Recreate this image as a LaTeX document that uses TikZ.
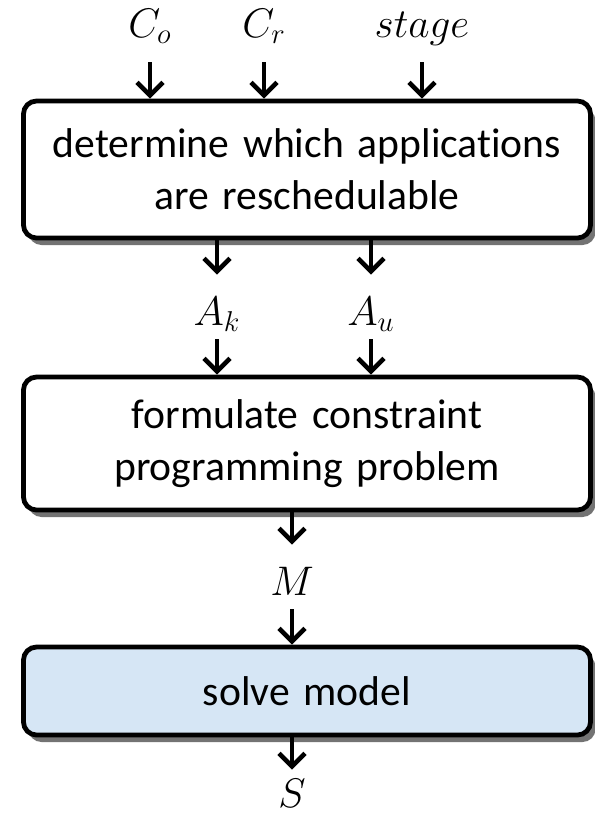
\documentclass[tikz,border=0pt]{standalone}
\usepackage{fontspec}
\setmainfont{Carlito}[Ligatures=NoCommon]
\usetikzlibrary{arrows.meta,shadows}
\definecolor{solvefill}{RGB}{214,230,245}
\tikzset{
  stepbox/.style={draw, line width=2.4bp, rounded corners=6.5bp, fill=white,
    minimum width=283.5bp, text width=265bp, align=center,
    font=\fontsize{20.9}{26}\selectfont,
    drop shadow={shadow xshift=2.5bp, shadow yshift=-3.5bp, fill=black, opacity=0.55}},
  lbl/.style={inner sep=0pt, anchor=base, text height=25bp, text depth=7bp,
    font=\fontsize{20.74}{26}\selectfont},
  flow/.style={line width=2.3bp, -{Straight Barb[length=6.5bp,width=13bp]}}
}
\begin{document}
\begin{tikzpicture}[x=0.5bp,y=-0.5bp]
\useasboundingbox (0,0) rectangle (595,815);

\node[stepbox, minimum height=68.5bp] at (307,169.5) (reschk) {determine which applications\\are reschedulable};
\node[stepbox, minimum height=66.5bp] at (307,443.5) (form) {formulate constraint\\programming problem};
\node[stepbox, minimum height=44bp, fill=solvefill] at (307,691) (solve) {solve model};

\node[lbl, text depth=12.5bp] at (150,37) (co) {$C_o$};
\node[lbl, text depth=12.5bp] at (264,37) (cr) {$C_r$};
\node[lbl, text depth=12.5bp] at (422,37) (stg) {$stage$};

\node[lbl] at (217,325) (ak) {$A_k$};
\node[lbl] at (371,325) (au) {$A_u$};
\node[lbl] at (292,595) (mdl) {$M$};
\node[lbl, text height=18.5bp] at (292,807) (sol) {$S$};

\draw[flow] (co) -- (co |- reschk.north);
\draw[flow] (cr) -- (cr |- reschk.north);
\draw[flow] (stg) -- (stg |- reschk.north);

\draw[flow] (reschk.south -| ak) -- (ak);
\draw[flow] (reschk.south -| au) -- (au);
\draw[flow] (ak) -- (ak |- form.north);
\draw[flow] (au) -- (au |- form.north);

\draw[flow] (form.south -| mdl) -- (mdl);
\draw[flow] (mdl) -- (mdl |- solve.north);
\draw[flow] (solve.south -| sol) -- (sol);
\end{tikzpicture}
\end{document}
